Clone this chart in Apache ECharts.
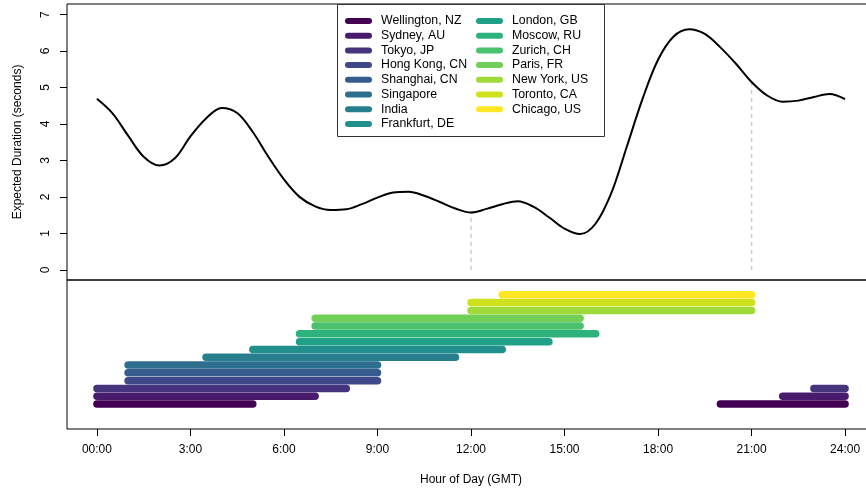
<!DOCTYPE html>
<html>
<head>
<meta charset="utf-8">
<script src="https://cdn.jsdelivr.net/npm/echarts@6/dist/echarts.min.js"></script>
<style>
  html, body { margin: 0; padding: 0; background: #fff; }
  #main { width: 866px; height: 496px; }
</style>
</head>
<body>
<div id="main"></div>
<script>
// expected duration curve (every half hour)
var hours = [0, 0.5, 1, 1.5, 2, 2.5, 3, 3.5, 4, 4.5, 5, 5.5, 6, 6.5, 7, 7.5, 8, 8.5,
  9, 9.5, 10, 10.5, 11, 11.5, 12, 12.5, 13, 13.5, 14, 14.5, 15, 15.5, 16, 16.5,
  17, 17.5, 18, 18.5, 19, 19.5, 20, 20.5, 21, 21.5, 22, 22.5, 23, 23.5, 24];
var duration = [4.69, 4.29, 3.68, 3.10, 2.86, 3.06, 3.66, 4.15, 4.44, 4.30, 3.78, 3.10,
  2.48, 2.00, 1.74, 1.64, 1.66, 1.80, 1.98, 2.12, 2.14, 2.03, 1.86, 1.68, 1.57, 1.67,
  1.80, 1.88, 1.73, 1.44, 1.13, 0.98, 1.27, 2.10, 3.38, 4.68, 5.76, 6.40, 6.60, 6.47,
  6.10, 5.65, 5.15, 4.78, 4.61, 4.64, 4.74, 4.82, 4.68];

// hours marked with a dashed drop line
var markHours = [12, 21];

// business hours per city (GMT), bottom row first
var cities = ['Wellington, NZ', 'Sydney, AU', 'Tokyo, JP', 'Hong Kong, CN', 'Shanghai, CN',
  'Singapore', 'India', 'Frankfurt, DE', 'London, GB', 'Moscow, RU', 'Zurich, CH',
  'Paris, FR', 'New York, US', 'Toronto, CA', 'Chicago, US'];
var spans = [
  [[0, 5], [20, 24]],
  [[0, 7], [22, 24]],
  [[0, 8], [23, 24]],
  [[1, 9]],
  [[1, 9]],
  [[1, 9]],
  [[3.5, 11.5]],
  [[5, 13]],
  [[6.5, 14.5]],
  [[6.5, 16]],
  [[7, 15.5]],
  [[7, 15.5]],
  [[12, 21]],
  [[12, 21]],
  [[13, 21]]
];
var colors = ['#440154', '#481B6D', '#46337E', '#3F4889', '#365C8D', '#2E6E8E', '#277F8E',
  '#21908C', '#1FA187', '#2DB27D', '#4AC16D', '#71CF57', '#9FDA3A', '#CFE11C', '#FDE725'];

var tickHours = [0, 3, 6, 9, 12, 15, 18, 21, 24];
var tickLabels = ['00:00', '3:00', '6:00', '9:00', '12:00', '15:00', '18:00', '21:00', '24:00'];
var yTicks = [0, 1, 2, 3, 4, 5, 6, 7];

var myChart = echarts.init(document.getElementById('main'));
var font = 'Liberation Sans, Arial, sans-serif';

var series = [];

// main curve
series.push({
  type: 'line',
  xAxisIndex: 0,
  yAxisIndex: 0,
  data: hours.map(function(h, i) { return [h, duration[i]]; }),
  smooth: 0.35,
  showSymbol: false,
  lineStyle: { color: '#000', width: 2 },
  z: 3
});

// dashed drop lines
markHours.forEach(function(h) {
  var v = duration[hours.indexOf(h)];
  series.push({
    type: 'line',
    xAxisIndex: 0,
    yAxisIndex: 0,
    data: [[h, 0], [h, v]],
    showSymbol: false,
    lineStyle: { color: '#cccccc', width: 1.5, type: [4, 4] },
    z: 2
  });
});

// city bars
cities.forEach(function(name, i) {
  var pts = [];
  spans[i].forEach(function(s, k) {
    if (k > 0) pts.push(['-', '-']);
    pts.push([s[0], i + 1]);
    pts.push([s[1], i + 1]);
  });
  series.push({
    name: name,
    type: 'line',
    xAxisIndex: 1,
    yAxisIndex: 1,
    data: pts,
    showSymbol: false,
    color: colors[i],
    lineStyle: { color: colors[i], width: 7.5, cap: 'round' }
  });
});

var legendIcon = 'path://M3,0 L24,0 A3,3 0 0 1 24,6 L3,6 A3,3 0 0 1 3,0 Z';
function legendCol(names, left) {
  return {
    orient: 'vertical',
    left: left,
    top: 15,
    padding: 0,
    itemGap: 2.7,
    itemWidth: 27,
    itemHeight: 6,
    icon: legendIcon,
    selectedMode: false,
    z: 20,
    itemStyle: { borderWidth: 0 },
    lineStyle: { width: 0 },
    textStyle: { fontFamily: font, fontSize: 12.3, color: '#000', lineHeight: 12, padding: [0, 0, 0, 4] },
    data: names
  };
}

var option = {
  animation: false,
  backgroundColor: '#fff',
  legend: [legendCol(cities.slice(0, 8), 345), legendCol(cities.slice(8), 476)],
  graphic: [{
    type: 'rect',
    shape: { x: 337.5, y: 4.5, width: 267, height: 132 },
    style: { fill: '#fff', stroke: '#333', lineWidth: 1 },
    z: 5
  }],
  grid: [
    { left: 67, top: 4, width: 808, height: 276, show: true, borderColor: '#000', borderWidth: 1, outerBoundsMode: 'none' },
    { left: 67, top: 280, width: 808, height: 149, show: true, borderColor: '#000', borderWidth: 1, outerBoundsMode: 'none' }
  ],
  xAxis: [
    {
      type: 'value', gridIndex: 0, min: -0.96, max: 24.96,
      axisLine: { show: false, onZero: false }, axisTick: { show: false },
      axisLabel: { show: false }, splitLine: { show: false }
    },
    {
      type: 'value', gridIndex: 1, min: -0.96, max: 24.96,
      name: 'Hour of Day (GMT)', nameLocation: 'middle', nameGap: 45,
      nameTextStyle: { fontFamily: font, fontSize: 12, color: '#000' },
      axisLine: { show: false, onZero: false },
      axisTick: { show: true, length: 7, lineStyle: { color: '#000' }, customValues: tickHours },
      axisLabel: {
        customValues: tickHours, margin: 15,
        fontFamily: font, fontSize: 12, color: '#000',
        formatter: function(v) { return tickLabels[tickHours.indexOf(v)]; }
      },
      splitLine: { show: false }
    }
  ],
  yAxis: [
    {
      type: 'value', gridIndex: 0, min: -0.28, max: 7.29,
      name: 'Expected Duration (seconds)', nameLocation: 'middle', nameGap: 43,
      nameTextStyle: { fontFamily: font, fontSize: 12, color: '#000' },
      axisLine: { show: false, onZero: false },
      axisTick: { show: true, length: 7, lineStyle: { color: '#000' }, customValues: yTicks },
      axisLabel: {
        customValues: yTicks, rotate: 90, margin: 15,
        fontFamily: font, fontSize: 12, color: '#000'
      },
      splitLine: { show: false }
    },
    {
      type: 'value', gridIndex: 1, min: -2.2, max: 16.9,
      axisLine: { show: false, onZero: false }, axisTick: { show: false },
      axisLabel: { show: false }, splitLine: { show: false }
    }
  ],
  series: series
};

myChart.setOption(option);
</script>
</body>
</html>
